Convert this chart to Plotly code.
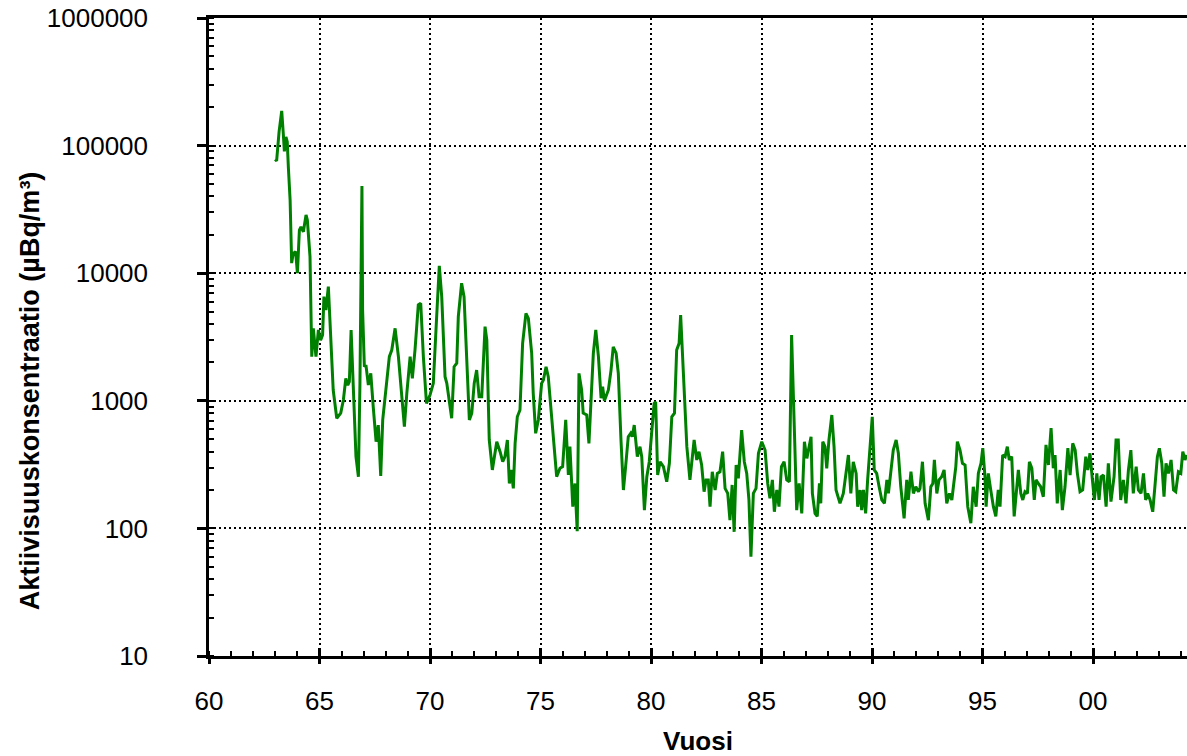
import plotly.graph_objects as go

years = [62.99, 63.06, 63.17, 63.29, 63.36, 63.41, 63.48, 63.54, 63.59, 63.67,
         63.74, 63.81, 63.92, 64.00, 64.09, 64.16, 64.27, 64.39, 64.45, 64.57,
         64.65, 64.72, 64.84, 64.95, 65.05, 65.14, 65.20, 65.29, 65.40, 65.48,
         65.62, 65.78, 65.96, 66.08, 66.19, 66.28, 66.35, 66.43, 66.53, 66.65,
         66.76, 66.83, 66.92, 66.95, 67.03, 67.10, 67.21, 67.32, 67.43, 67.56,
         67.66, 67.77, 67.86, 68.01, 68.16, 68.27, 68.42, 68.57, 68.72, 68.84,
         68.95, 69.10, 69.20, 69.32, 69.47, 69.58, 69.70, 69.84, 70.00, 70.15,
         70.27, 70.42, 70.53, 70.68, 70.76, 70.87, 70.98, 71.09, 71.21, 71.28,
         71.43, 71.54, 71.66, 71.78, 71.89, 72.00, 72.11, 72.22, 72.34, 72.49,
         72.57, 72.68, 72.82, 73.02, 73.17, 73.29, 73.39, 73.50, 73.59, 73.67,
         73.77, 73.85, 73.95, 74.07, 74.19, 74.34, 74.45, 74.60, 74.67, 74.78,
         74.90, 75.05, 75.13, 75.25, 75.35, 75.46, 75.58, 75.73, 75.88, 76.00,
         76.14, 76.26, 76.33, 76.46, 76.56, 76.66, 76.74, 76.86, 76.93, 77.09,
         77.19, 77.32, 77.39, 77.50, 77.62, 77.74, 77.81, 77.89, 78.07, 78.19,
         78.29, 78.42, 78.52, 78.64, 78.75, 78.85, 78.97, 79.08, 79.15, 79.24,
         79.38, 79.50, 79.58, 79.70, 79.81, 79.92, 80.03, 80.14, 80.21, 80.30,
         80.41, 80.56, 80.71, 80.83, 80.94, 81.06, 81.16, 81.27, 81.34, 81.46,
         81.62, 81.76, 81.87, 81.95, 82.07, 82.17, 82.29, 82.40, 82.49, 82.59,
         82.67, 82.77, 82.90, 83.00, 83.12, 83.24, 83.35, 83.47, 83.57, 83.67,
         83.76, 83.85, 83.95, 84.10, 84.22, 84.33, 84.43, 84.52, 84.63, 84.75,
         84.86, 85.01, 85.16, 85.28, 85.38, 85.49, 85.58, 85.69, 85.79, 85.90,
         86.02, 86.14, 86.26, 86.36, 86.49, 86.59, 86.70, 86.82, 86.94, 87.05,
         87.24, 87.30, 87.42, 87.52, 87.62, 87.68, 87.77, 87.87, 87.95, 88.05,
         88.18, 88.28, 88.37, 88.55, 88.70, 88.82, 88.93, 89.04, 89.15, 89.28,
         89.35, 89.46, 89.53, 89.61, 89.71, 89.80, 89.91, 90.01, 90.10, 90.21,
         90.32, 90.44, 90.56, 90.67, 90.74, 90.85, 90.96, 91.09, 91.19, 91.30,
         91.45, 91.57, 91.64, 91.76, 91.87, 91.98, 92.10, 92.17, 92.28, 92.40,
         92.55, 92.66, 92.75, 92.82, 92.93, 93.03, 93.15, 93.26, 93.38, 93.50,
         93.61, 93.68, 93.79, 93.86, 93.98, 94.09, 94.21, 94.33, 94.47, 94.58,
         94.71, 94.81, 94.93, 95.01, 95.11, 95.16, 95.26, 95.37, 95.49, 95.60,
         95.71, 95.79, 95.91, 96.02, 96.12, 96.21, 96.32, 96.43, 96.52, 96.62,
         96.73, 96.82, 96.92, 97.03, 97.12, 97.23, 97.34, 97.42, 97.52, 97.63,
         97.75, 97.87, 97.98, 98.10, 98.20, 98.28, 98.38, 98.51, 98.61, 98.73,
         98.86, 98.96, 99.08, 99.19, 99.29, 99.41, 99.53, 99.67, 99.76, 99.86,
         99.97, 100.06, 100.17, 100.27, 100.36, 100.47, 100.59, 100.69, 100.81, 100.95,
         101.04, 101.14, 101.25, 101.37, 101.49, 101.60, 101.71, 101.82, 101.95, 102.05,
         102.17, 102.28, 102.38, 102.47, 102.58, 102.70, 102.81, 102.91, 103.00, 103.11,
         103.21, 103.30, 103.41, 103.53, 103.64, 103.74, 103.86, 103.97, 104.06, 104.16,
         104.24]

activity = [78000, 76000, 128000, 187000, 125000, 90000, 117000, 107000, 68000, 37500,
            12000, 14300, 14750, 10000, 21800, 23100, 21100, 28600, 26100, 13500,
            2220, 3700, 2220, 3590, 2990, 3280, 6550, 5150, 7840, 3810,
            1215, 730, 800, 1015, 1500, 1330, 1410, 3590, 1145, 365,
            254, 1380, 48200, 5150, 1850, 1910, 1330, 1640, 900, 478,
            645, 258, 708, 1215, 2220, 2500, 3700, 2220, 1076, 627,
            1145, 2220, 1500, 2500, 5640, 5810, 2200, 955, 1110, 1370,
            3590, 11400, 6550, 1545, 1370, 955, 730, 1850, 1970, 4560,
            8340, 6550, 1970, 708, 800, 1370, 1740, 1076, 1076, 3810,
            2990, 493, 287, 478, 399, 333, 365, 493, 225, 287,
            206, 464, 750, 847, 2820, 4850, 4430, 2360, 1145, 556,
            708, 1370, 1455, 1850, 1545, 900, 523, 254, 296, 305,
            708, 262, 437, 148, 225, 95, 1640, 1215, 800, 774,
            464, 1215, 2360, 3590, 2220, 1047, 1290, 1000, 1215, 1740,
            2650, 2360, 1640, 493, 200, 305, 523, 556, 523, 645,
            365, 437, 365, 139, 254, 333, 590, 955, 980, 262,
            333, 305, 232, 324, 750, 800, 2500, 2820, 4700, 1640,
            437, 240, 344, 493, 344, 399, 314, 194, 240, 240,
            148, 278, 200, 270, 278, 399, 206, 188, 116, 219,
            94, 314, 247, 590, 333, 270, 167, 60, 188, 206,
            388, 478, 411, 225, 172, 240, 135, 200, 148, 305,
            333, 240, 232, 3280, 556, 139, 225, 131, 478, 354,
            523, 188, 131, 124, 225, 157, 478, 437, 296, 493,
            774, 437, 200, 157, 188, 287, 376, 188, 333, 270,
            148, 200, 139, 200, 131, 240, 411, 750, 287, 270,
            212, 167, 157, 240, 188, 287, 411, 493, 388, 212,
            120, 240, 167, 278, 188, 212, 194, 206, 333, 157,
            116, 212, 225, 344, 188, 240, 254, 287, 157, 188,
            167, 212, 305, 478, 411, 324, 314, 148, 110, 212,
            148, 270, 324, 425, 254, 148, 270, 200, 148, 124,
            200, 148, 376, 365, 437, 344, 365, 124, 177, 287,
            188, 167, 194, 188, 333, 296, 167, 240, 225, 212,
            177, 451, 314, 610, 296, 376, 157, 287, 139, 212,
            425, 262, 464, 411, 270, 194, 200, 365, 287, 388,
            240, 167, 270, 167, 254, 262, 148, 324, 162, 254,
            493, 493, 167, 240, 157, 287, 411, 188, 305, 200,
            188, 270, 167, 188, 167, 135, 225, 365, 425, 324,
            177, 324, 270, 344, 200, 194, 278, 270, 399, 344,
            376]

tick_years = [60, 65, 70, 75, 80, 85, 90, 95, 100]
tick_labels = ["60", "65", "70", "75", "80", "85", "90", "95", "00"]
y_ticks = [10, 100, 1000, 10000, 100000, 1000000]
y_labels = ["10", "100", "1000", "10000", "100000", "1000000"]
y_title = "Aktiivisuuskonsentraatio (µBq/m³)"
x_title = "Vuosi"

FONT = "Liberation Sans, Arial, sans-serif"
FS = 26
x_range = [60, 104.25]

fig = go.Figure()
fig.add_trace(go.Scatter(x=years, y=activity, mode="lines",
                         line=dict(color="#008000", width=3),
                         hoverinfo="x+y", showlegend=False))
fig.add_trace(go.Scatter(x=[], y=[], xaxis="x2", yaxis="y", showlegend=False))

fig.update_layout(
    width=1187, height=756,
    margin=dict(l=209, r=0, t=18, b=100),
    paper_bgcolor="white", plot_bgcolor="white",
    font=dict(family=FONT, color="black", size=FS),
    xaxis=dict(
        range=x_range, tickvals=tick_years, ticktext=tick_labels,
        ticks="outside", ticklen=5, tickwidth=3, tickcolor="black",
        showline=True, linecolor="black", linewidth=2.5, mirror=True,
        showgrid=True, gridcolor="black", gridwidth=2, griddash="2px,3px",
        minor=dict(dtick=1, ticks="inside", ticklen=5, tickwidth=2,
                   tickcolor="black", showgrid=False),
        tickfont=dict(size=FS), ticklabelstandoff=15,
        title=dict(text="<b>" + x_title + "</b>", font=dict(size=FS), standoff=18),
        zeroline=False, automargin=False,
    ),
    xaxis2=dict(
        range=x_range, matches="x", overlaying="x", anchor="y",
        tickvals=tick_years, ticktext=["" for _ in tick_labels],
        ticks="inside", ticklen=8, tickwidth=3, tickcolor="black",
        showline=False, showgrid=False, zeroline=False, automargin=False,
    ),
    yaxis=dict(
        type="log", range=[1, 6], tickvals=y_ticks, ticktext=y_labels,
        ticks="outside", ticklen=9, tickwidth=3, tickcolor="black",
        showline=True, linecolor="black", linewidth=2.5, mirror=False,
        showgrid=True, gridcolor="black", gridwidth=2, griddash="2px,3px",
        minor=dict(dtick="D1", ticks="inside", ticklen=5, tickwidth=2,
                   tickcolor="black", showgrid=False),
        tickfont=dict(size=FS), ticklabelstandoff=44,
        zeroline=False, automargin=False,
    ),
    annotations=[dict(
        text="<b>" + y_title + "</b>", textangle=-90,
        xref="paper", yref="paper", x=-0.183, y=0.415,
        xanchor="center", yanchor="middle", showarrow=False,
        font=dict(size=27, family=FONT, color="black"),
    )],
)

fig.write_html("out.html", config={"displayModeBar": False},
               post_script="document.body.style.margin='0';")
